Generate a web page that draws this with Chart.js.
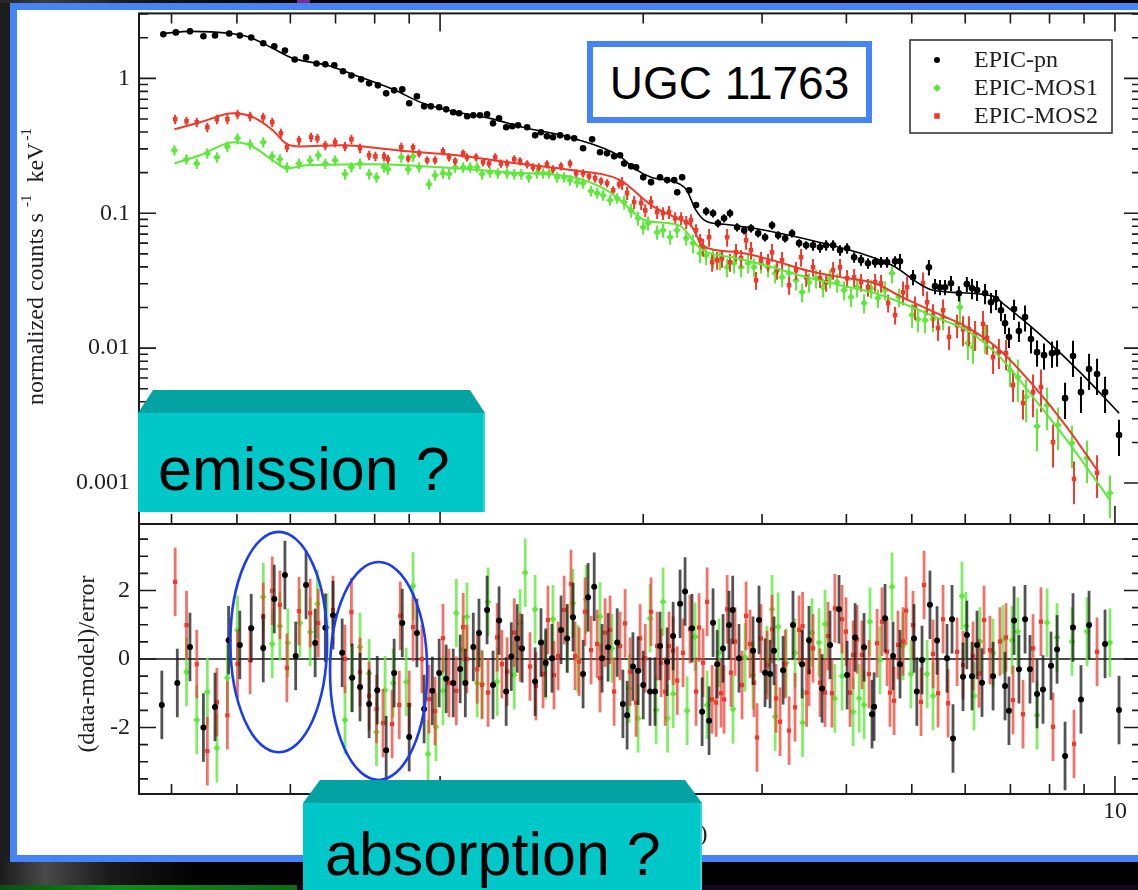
<!DOCTYPE html>
<html>
<head>
<meta charset="utf-8">
<title>UGC 11763 – XMM-Newton EPIC spectra</title>
<script src="https://cdn.jsdelivr.net/npm/chart.js@4.4.1/dist/chart.umd.min.js"></script>
<style>
  html, body { margin:0; padding:0; width:1138px; height:890px; overflow:hidden; background:#020202; }
  .abs { position:absolute; }
  #leftStrip  { left:0; top:0; width:10px; height:890px; background:#1d1d1d; }
  #topGlow    { left:0; top:0; width:1138px; height:3px; background:linear-gradient(90deg,#262626 0,#3c3c3c 45px,#151515 150px,#000 300px); }
  #purple     { left:297px; top:0; width:13px; height:3px; background:#77308a; }
  #blueFrame  { left:10px; top:3px; width:1150px; height:859px; background:#4683f4; }
  #whitePanel { left:17px; top:10px; width:1150px; height:845px; background:#ffffff; }
  #bottomBand { left:0; top:862px; width:1138px; height:23px; background:linear-gradient(90deg,#1b1b1b 0,#4a4a4a 45px,#1a1a1a 110px,#000 200px); }
  #greenBand  { left:0; top:885px; width:297px; height:5px; background:linear-gradient(90deg,#0c4f10,#138a1a 40%,#0f6a14); }
  #darkBand   { left:297px; top:885px; width:841px; height:5px; background:#12081a; }
  canvas { position:absolute; }
  #overlay { left:0; top:0; pointer-events:none; }
</style>
</head>
<body>
<div class="abs" id="leftStrip"></div>
<div class="abs" id="topGlow"></div>
<div class="abs" id="purple"></div>
<div class="abs" id="blueFrame"></div>
<div class="abs" id="whitePanel"></div>
<div class="abs" id="bottomBand"></div>
<div class="abs" id="greenBand"></div>
<div class="abs" id="darkBand"></div>

<canvas id="specCanvas" width="1160" height="570" style="left:0;top:-10px;width:1160px;height:570px"></canvas>
<canvas id="residCanvas" width="1160" height="380" style="left:0;top:500px;width:1160px;height:380px"></canvas>

<svg class="abs" id="overlay" width="1138" height="890" xmlns="http://www.w3.org/2000/svg">
  <rect x="590" y="44" width="279" height="76" fill="#ffffff" stroke="#4683f4" stroke-width="6"/>
  <text x="729.5" y="99" text-anchor="middle" font-family="'Liberation Sans', Arial, sans-serif" font-size="46" fill="#000">UGC 11763</text>

  <polygon points="153,390 470,390 485,413 138,413" fill="#04a3a3"/>
  <rect x="138" y="413" width="347" height="99" fill="#00c8c8"/>
  <rect x="483" y="413" width="2" height="99" fill="#33d6d6"/>
  <text x="158" y="490" font-family="'Liberation Sans', Arial, sans-serif" font-size="61" fill="#000">emission ?</text>

  <polygon points="320,780 685,780 702,803 303,803" fill="#04a3a3"/>
  <rect x="303" y="803" width="399" height="90" fill="#00c8c8"/>
  <rect x="700" y="803" width="2" height="90" fill="#33d6d6"/>
  <text x="325" y="875" font-family="'Liberation Sans', Arial, sans-serif" font-size="61" fill="#000">absorption ?</text>
</svg>

<script>
// ---------------------------------------------------------------
// Axis ranges and tick values
// ---------------------------------------------------------------
const xMin = 0.358, xMax = 10.93;            // keV
const fluxMin = 0.000497, fluxMax = 3.03;    // normalized counts s^-1 keV^-1
const residMin = -3.94, residMax = 3.94;     // (data-model)/error

const xLabelTicks = [1, 10];
const xMinorTicks = [0.4, 0.5, 0.6, 0.7, 0.8, 0.9, 2, 3, 4, 5, 6, 7, 8, 9];
const fluxDecades = [0.001, 0.01, 0.1, 1];
const fluxMinorTicks = [0.002,0.003,0.004,0.005,0.006,0.007,0.008,0.009,
                        0.02,0.03,0.04,0.05,0.06,0.07,0.08,0.09,
                        0.2,0.3,0.4,0.5,0.6,0.7,0.8,0.9, 2, 3];
const residMajorTicks = [-2, 0, 2];
const residMinorTicks = [-3.5,-3,-2.5,-1.5,-1,-0.5,0.5,1,1.5,2.5,3,3.5];

// ---------------------------------------------------------------
// EPIC-pn spectrum (energy keV, normalized counts, fractional error)
// ---------------------------------------------------------------
const pnE = [
  0.389,0.406,0.426,0.446,0.464,0.487,0.505,0.525,0.547,0.568,0.589,0.609,0.633,0.656,0.676,0.697,0.718,0.739,0.764,0.785,
  0.809,0.832,0.855,0.879,0.900,0.924,0.947,0.969,0.997,1.021,1.046,1.067,1.097,1.120,1.146,1.174,1.198,1.223,1.253,1.279,
  1.305,1.346,1.383,1.411,1.440,1.470,1.506,1.543,1.580,1.629,1.680,1.726,1.768,1.811,1.848,
  1.874,1.919,1.952,2.000,2.054,2.118,2.170,2.223,2.246,2.284,2.339,2.395,2.479,2.538,2.581,2.635,2.689,2.755,2.822,2.889,
  2.960,3.031,3.104,3.169,3.246,3.323,3.404,3.487,3.570,3.656,3.733,3.823,3.914,4.010,4.107,4.205,4.306,4.412,4.502,4.596,4.723,
  4.803,5.021,5.301,5.413,5.505,5.601,5.716,5.872,6.034,6.141,6.247,6.420,6.552,6.666,6.779,6.873,6.966,7.088,7.207,7.359,
  7.509,7.666,7.851,8.068,8.208,8.435,8.667,8.906,9.155,9.408,9.668,10.14];
const pnF = [
  2.12,2.19,2.23,2.05,2.08,2.15,2.08,2.01,1.82,1.73,1.61,1.38,1.43,1.29,1.27,1.25,1.13,1.05,0.983,0.918,
  0.887,0.774,0.815,0.829,0.653,0.736,0.620,0.620,0.610,0.589,0.560,0.551,0.523,0.532,0.532,0.541,0.464,0.505,0.434,0.441,
  0.449,0.434,0.378,0.398,0.372,0.366,0.378,0.366,0.359,0.303,0.353,0.283,0.278,0.264,0.269,
  0.234,0.223,0.219,0.185,0.170,0.185,0.176,0.176,0.143,0.185,0.148,0.115,0.1035,0.100,0.0843,0.0918,0.100,0.0788,0.0748,0.0774,
  0.0711,0.0664,0.0815,0.0687,0.0653,0.0711,0.0600,0.0579,0.0579,0.0560,0.0579,0.0579,0.0532,0.0550,0.0472,0.0449,0.0426,0.0434,0.0434,0.0434,0.0441,
  0.0441,0.0336,0.0398,0.0288,0.0283,0.0283,0.0303,0.0255,0.0298,0.0278,0.0269,0.0255,0.0219,0.0231,0.0191,0.0153,0.0121,0.0195,0.0134,0.0170,
  0.0117,0.00934,0.00887,0.00918,0.00934,0.00426,0.00873,0.00472,0.00699,0.00642,0.00472,0.00227];
const pnErr = [
  0.03,0.03,0.03,0.03,0.03,0.03,0.03,0.03,0.03,0.03,0.03,0.03,0.03,0.03,0.03,0.03,0.03,0.03,0.03,0.03,
  0.03,0.03,0.03,0.03,0.03,0.03,0.03,0.03,0.03,0.03,0.03,0.03,0.03,0.03,0.03,0.04,0.04,0.04,0.04,0.04,
  0.04,0.04,0.04,0.04,0.04,0.04,0.04,0.04,0.04,0.04,0.04,0.04,0.04,0.04,0.04,
  0.05,0.05,0.05,0.05,0.05,0.05,0.05,0.05,0.05,0.05,0.05,0.05,0.07,0.07,0.07,0.07,0.07,0.07,0.07,0.07,
  0.07,0.07,0.07,0.07,0.07,0.07,0.07,0.07,0.09,0.09,0.09,0.09,0.09,0.09,0.09,0.09,0.09,0.09,0.09,0.09,0.09,
  0.13,0.13,0.13,0.13,0.13,0.13,0.13,0.13,0.13,0.17,0.17,0.17,0.17,0.17,0.17,0.17,0.17,0.17,0.17,0.22,
  0.22,0.22,0.22,0.22,0.22,0.30,0.30,0.30,0.30,0.30,0.30,0.30];

// ---------------------------------------------------------------
// EPIC-MOS1 spectrum
// ---------------------------------------------------------------
const mos1E = [
  0.404,0.421,0.436,0.452,0.467,0.484,0.501,0.523,0.547,0.564,0.579,0.593,0.618,0.642,0.660,0.676,0.699,0.723,0.739,0.761,
  0.785,0.805,0.826,0.837,0.876,0.897,0.912,0.931,0.963,0.983,1.010,1.031,1.053,1.082,1.108,1.135,1.154,1.186,1.218,1.257,
  1.288,1.319,1.354,1.392,1.421,1.450,1.491,1.527,1.558,1.596,1.629,1.674,1.709,1.744,1.786,1.830,
  1.874,1.919,1.965,2.000,2.033,2.097,2.140,2.192,2.244,2.316,2.371,2.428,2.479,2.538,2.599,2.663,2.727,2.793,2.861,2.919,
  2.989,3.062,3.137,3.212,3.290,3.369,3.439,3.521,3.607,3.694,3.783,3.876,3.969,4.064,4.149,4.249,4.351,4.455,4.564,4.674,4.786,
  5.004,5.106,5.232,5.376,5.563,5.893,6.055,6.162,6.420,6.990,7.181,7.384,7.666,7.933,8.236,8.637,9.092,9.831];
const mos1F = [
  0.293,0.251,0.234,0.278,0.260,0.313,0.359,0.325,0.336,0.264,0.251,0.219,0.234,0.247,0.269,0.234,0.247,0.195,0.219,0.234,
  0.195,0.185,0.219,0.212,0.260,0.212,0.264,0.219,0.164,0.191,0.198,0.195,0.219,0.219,0.219,0.219,0.195,0.201,0.198,0.198,
  0.195,0.195,0.185,0.198,0.198,0.198,0.185,0.185,0.176,0.170,0.167,0.146,0.141,0.136,0.125,0.129,
  0.121,0.105,0.0918,0.0788,0.0843,0.0723,0.0748,0.0664,0.0748,0.0653,0.0600,0.0506,0.0489,0.0464,0.0449,0.0398,0.0426,0.0398,0.0426,0.0398,
  0.0426,0.0398,0.0359,0.0336,0.0359,0.0319,0.0260,0.0308,0.0330,0.0283,0.0330,0.0308,0.0269,0.0239,0.0283,0.0216,0.0278,0.0235,0.0269,0.0359,0.0239,
  0.0176,0.0164,0.0161,0.0164,0.0170,0.0201,0.0109,0.0102,0.0121,0.00687,0.00610,0.00434,0.00264,0.00378,0.00269,0.00198,0.00153,0.000843];
const mos1Err = [
  0.09,0.09,0.09,0.09,0.09,0.09,0.09,0.09,0.09,0.09,0.09,0.09,0.09,0.09,0.09,0.09,0.09,0.09,0.09,0.09,
  0.09,0.09,0.09,0.09,0.09,0.09,0.09,0.09,0.09,0.09,0.09,0.09,0.09,0.09,0.09,0.09,0.09,0.09,0.09,0.09,
  0.09,0.09,0.09,0.09,0.09,0.09,0.09,0.09,0.09,0.09,0.09,0.09,0.09,0.09,0.09,0.09,
  0.12,0.12,0.12,0.12,0.12,0.12,0.12,0.12,0.12,0.12,0.16,0.16,0.16,0.16,0.16,0.16,0.16,0.16,0.16,0.16,
  0.16,0.16,0.16,0.16,0.16,0.16,0.16,0.16,0.16,0.16,0.16,0.16,0.16,0.16,0.16,0.16,0.16,0.16,0.16,0.16,0.16,
  0.20,0.20,0.20,0.20,0.20,0.25,0.25,0.25,0.25,0.25,0.35,0.35,0.35,0.35,0.35,0.35,0.35,0.35];

// ---------------------------------------------------------------
// EPIC-MOS2 spectrum
// ---------------------------------------------------------------
const mos2E = [
  0.405,0.421,0.436,0.452,0.467,0.484,0.501,0.523,0.547,0.564,0.581,0.593,0.618,0.644,0.658,0.676,0.699,0.723,0.739,0.761,
  0.785,0.802,0.826,0.837,0.876,0.897,0.912,0.931,0.957,0.983,1.010,1.031,1.053,1.082,1.096,1.131,1.158,1.182,1.207,1.231,
  1.257,1.288,1.314,1.346,1.373,1.401,1.440,1.470,1.511,1.558,1.591,1.629,1.662,1.697,1.732,1.768,1.805,1.842,
  1.861,1.893,1.939,1.986,2.014,2.054,2.097,2.140,2.184,2.230,2.276,2.316,2.354,2.395,2.428,2.453,2.504,2.530,2.574,2.617,
  2.663,2.689,2.745,2.793,2.841,2.889,2.939,2.989,3.062,3.104,3.158,3.212,3.290,3.369,3.427,3.487,3.570,3.656,3.733,3.823,
  3.914,4.010,4.107,4.205,4.306,4.412,4.502,4.612,4.723,
  4.853,4.921,5.056,5.196,5.268,5.376,5.469,5.563,5.678,5.836,5.955,6.077,6.205,6.376,6.465,6.598,6.731,6.897,7.063,7.308,
  7.562,7.770,8.096,8.697,9.408];
const mos2F = [
  0.497,0.480,0.472,0.434,0.497,0.497,0.541,0.523,0.514,0.472,0.391,0.308,0.347,0.366,0.359,0.319,0.336,0.313,0.353,0.303,
  0.269,0.264,0.264,0.251,0.308,0.255,0.308,0.278,0.247,0.247,0.288,0.260,0.243,0.278,0.260,0.260,0.239,0.234,0.260,0.234,
  0.234,0.251,0.243,0.231,0.219,0.219,0.231,0.212,0.223,0.234,0.198,0.198,0.188,0.182,0.173,0.167,0.148,0.164,
  0.167,0.141,0.121,0.119,0.105,0.121,0.102,0.100,0.102,0.0918,0.0918,0.0858,0.0887,0.0748,0.0631,0.0560,0.0664,0.0434,0.0449,0.0464,
  0.0664,0.0434,0.0514,0.0464,0.0631,0.0532,0.0319,0.0449,0.0434,0.0514,0.0378,0.0449,0.0293,0.0378,0.0472,0.0336,0.0398,0.0330,0.0308,0.0378,
  0.0398,0.0330,0.0336,0.0308,0.0283,0.0308,0.0303,0.0216,0.0176,
  0.0260,0.0283,0.0201,0.0303,0.0219,0.0176,0.0141,0.0191,0.0121,0.0148,0.0138,0.0138,0.0127,0.0151,0.0119,0.00858,0.00934,0.00918,0.00532,0.00392,
  0.00472,0.00514,0.00201,0.00107,0.00119];
const mos2Err = [
  0.08,0.08,0.08,0.08,0.08,0.08,0.08,0.08,0.08,0.08,0.08,0.08,0.08,0.08,0.08,0.08,0.08,0.08,0.08,0.08,
  0.08,0.08,0.08,0.08,0.08,0.07,0.07,0.07,0.07,0.07,0.07,0.07,0.07,0.07,0.07,0.07,0.07,0.07,0.07,0.07,
  0.07,0.07,0.07,0.07,0.07,0.07,0.07,0.07,0.07,0.07,0.07,0.07,0.07,0.07,0.07,0.07,0.07,0.07,
  0.11,0.11,0.11,0.11,0.11,0.11,0.11,0.11,0.11,0.11,0.11,0.11,0.11,0.11,0.11,0.15,0.15,0.15,0.15,0.15,
  0.15,0.15,0.15,0.15,0.15,0.15,0.15,0.15,0.15,0.15,0.15,0.15,0.15,0.15,0.15,0.15,0.15,0.15,0.15,0.15,
  0.15,0.15,0.15,0.15,0.15,0.15,0.15,0.15,0.15,
  0.20,0.20,0.20,0.20,0.20,0.20,0.20,0.20,0.20,0.20,0.25,0.25,0.25,0.25,0.25,0.25,0.25,0.25,0.25,0.25,
  0.35,0.35,0.35,0.35,0.35];

// ---------------------------------------------------------------
// Folded best-fit models
// ---------------------------------------------------------------
const pnModelE = [0.389,0.426,0.489,0.523,0.565,0.605,0.680,0.743,0.852,0.944,1.060,1.186,1.327,1.574,1.848,1.939,2.054,2.230,2.316,2.395,
                  2.479,2.635,2.919,3.290,3.694,4.149,4.674,5.376,6.598,6.873,7.906,8.875,10.14];
const pnModelF = [2.15,2.23,2.15,2.01,1.67,1.41,1.25,1.07,0.829,0.653,0.560,0.505,0.434,0.359,0.264,0.215,0.185,0.170,0.150,0.105,
                  0.0872,0.0829,0.0774,0.0687,0.0600,0.0514,0.0412,0.0269,0.0243,0.0208,0.0115,0.00664,0.00330];
const mos1ModelE = [0.404,0.441,0.494,0.523,0.565,0.593,0.635,0.796,1.000,1.257,1.574,1.768,1.848,2.014,2.184,2.284,2.428,2.755,3.104,3.487,
                    3.914,4.412,4.803,5.563,6.034,6.755,7.562,8.487,9.831];
const mos1ModelF = [0.234,0.269,0.336,0.319,0.247,0.215,0.227,0.231,0.219,0.201,0.185,0.148,0.125,0.0887,0.0843,0.0788,0.0550,0.0464,0.0398,0.0336,
                    0.0293,0.0255,0.0219,0.0161,0.0136,0.00858,0.00434,0.00208,0.000748];
const mos2ModelE = [0.404,0.441,0.494,0.529,0.565,0.593,0.620,0.711,0.893,1.060,1.257,1.574,1.848,2.054,2.244,2.354,2.453,2.755,3.104,3.487,
                    3.914,4.412,4.803,5.563,6.034,6.755,7.562,8.487,9.408];
const mos2ModelF = [0.419,0.472,0.551,0.514,0.412,0.325,0.313,0.319,0.288,0.269,0.239,0.208,0.176,0.115,0.0918,0.0815,0.0570,0.0514,0.0449,0.0378,
                    0.0336,0.0303,0.0243,0.0173,0.0143,0.00966,0.00532,0.00260,0.00125];

// ---------------------------------------------------------------
// Residuals (data-model)/error ; every point carries a +/-1 sigma bar
// ---------------------------------------------------------------
const resPnE = [
  0.387,0.408,0.426,0.446,0.464,0.486,0.505,0.525,0.547,0.568,0.589,0.611,0.633,0.653,0.676,0.694,0.716,0.741,0.761,0.785,
  0.807,0.832,0.855,0.879,0.900,0.924,0.947,0.974,0.997,1.021,1.046,1.071,1.090,1.120,1.142,
  1.174,1.198,1.223,1.253,1.275,1.301,1.323,1.383,1.411,1.434,1.465,1.511,1.543,1.574,1.629,1.657,1.692,1.738,1.774,1.830,
  1.866,1.893,1.931,1.965,2.000,2.047,2.082,2.118,2.170,2.215,2.268,2.307,2.362,2.445,2.504,2.538,2.574,2.626,2.680,2.714,
  2.773,2.909,2.969,3.031,3.083,
  3.125,3.223,3.334,3.439,3.521,3.682,3.783,3.901,4.010,4.121,4.249,4.366,4.397,4.564,4.690,4.803,5.038,5.087,5.178,5.320,
  5.450,5.639,5.736,5.755,5.955,6.034,6.141,6.247,6.354,6.598,6.873,6.966,7.088,7.207,7.359,7.483,7.666,7.824,8.040,8.208,
  8.435,8.667,8.906,9.155,9.668,10.14];
const resPn = [
  -1.34,-0.70,0.35,-2.00,-1.40,0.55,0.41,0.90,0.32,1.75,2.45,0.09,2.16,0.47,0.91,1.28,0.18,-0.55,-0.82,-1.31,
  -0.91,-2.66,-0.41,1.05,-2.28,0.76,-1.46,-0.93,-0.41,-0.58,-0.70,-0.29,-0.70,0.35,0.76,
  1.43,-0.76,1.12,-0.95,0.07,0.60,0.31,-0.66,0.48,-0.11,0.02,0.85,0.60,1.22,-0.44,1.80,2.11,0.02,0.34,0.48,
  -1.31,-1.64,-0.22,-0.34,-0.76,-0.95,-0.95,0.38,-0.08,0.67,1.61,1.97,0.90,-1.54,-1.80,1.06,-0.15,0.31,0.99,1.43,
  0.02,0.24,1.14,-0.40,-0.44,
  0.24,-0.33,0.99,-0.15,0.55,-0.86,0.41,1.45,-0.47,0.63,0.34,-1.61,-1.39,1.19,0.09,-0.15,0.60,-0.95,-0.03,1.58,
  0.54,0.02,1.16,-2.32,-0.52,0.70,-0.50,0.41,-0.69,-0.50,-0.79,-1.51,1.12,-0.30,1.16,-0.30,-1.02,-0.89,-0.20,0.28,
  -2.83,0.92,-1.18,0.99,0.44,-1.49];

const resMos1E = [
  0.421,0.436,0.452,0.467,0.484,0.501,0.547,0.564,0.579,0.595,0.620,0.642,0.658,0.680,0.723,0.739,0.761,0.785,0.805,0.829,
  0.852,0.891,0.912,0.960,0.986,1.010,1.057,1.082,1.096,1.135,
  1.154,1.178,1.215,1.288,1.314,1.337,1.383,1.434,1.470,1.543,1.574,1.601,1.646,1.726,1.798,1.906,1.965,2.047,2.090,2.140,
  2.173,2.215,2.323,2.387,2.487,2.590,2.717,2.831,2.909,3.051,3.104,
  3.137,3.169,3.257,3.357,3.445,3.557,3.643,3.719,3.846,3.941,4.093,4.178,4.249,4.336,4.486,4.674,4.853,4.986,5.268,5.376,
  5.934,6.017,6.183,6.310,6.598,6.825,7.039,7.181,7.666,7.933,8.208,8.637,9.092,9.831];
const resMos1 = [
  -0.38,-1.78,-0.96,-2.60,-0.55,0.85,1.81,0.44,0.96,0.47,1.05,0.79,1.61,0.92,-1.78,-0.55,0.35,-0.42,-2.13,-0.91,
  -0.70,-0.67,2.13,-2.77,-1.98,-0.93,1.34,0.26,1.23,-0.70,
  -0.73,1.67,-0.66,-0.47,1.04,2.52,1.45,-0.18,1.16,0.60,1.63,0.00,1.74,1.24,0.31,-0.86,-1.73,1.19,-1.49,1.67,
  -1.73,-1.02,-1.51,0.65,-1.34,0.18,-1.47,0.05,-0.47,-0.03,1.45,
  -1.68,0.94,-0.11,0.18,-1.86,0.77,0.48,1.02,-1.15,-0.50,-1.54,-1.15,-1.34,1.09,-0.03,2.11,0.38,-0.44,-0.44,-1.08,
  1.84,0.96,-1.08,0.51,0.18,0.57,0.55,0.80,-1.64,1.06,0.63,0.51,0.80,0.48];

const resMos2E = [
  0.405,0.421,0.436,0.452,0.467,0.484,0.501,0.523,0.547,0.564,0.579,0.593,0.618,0.642,0.660,0.694,0.723,0.739,0.761,0.785,
  0.805,0.823,0.849,0.870,0.873,0.900,0.912,0.940,0.963,0.983,1.010,1.031,1.057,1.082,1.096,1.135,
  1.154,1.178,1.215,1.235,1.257,1.288,1.314,1.359,1.387,1.421,1.445,1.475,1.496,1.527,1.563,1.585,1.607,1.640,1.674,1.709,
  1.726,1.756,1.786,1.811,1.848,1.880,1.912,1.952,1.979,2.014,2.054,2.097,2.126,2.156,2.184,2.215,2.246,2.291,2.346,2.395,
  2.420,2.453,2.487,2.530,2.565,2.608,2.635,2.663,2.698,2.736,2.802,2.841,2.879,2.919,2.949,2.989,3.051,3.104,
  3.147,3.190,3.246,3.290,3.357,3.404,3.445,3.492,3.521,3.570,3.656,3.719,3.757,3.808,3.846,3.941,3.995,4.050,4.093,4.149,
  4.219,4.321,4.442,4.517,4.596,4.642,4.707,4.770,4.853,4.904,5.021,5.160,5.214,5.376,5.469,5.563,5.659,5.836,5.955,6.162,
  6.288,6.398,6.529,6.755,6.897,7.063,7.308,7.562,7.770,8.096,8.697,9.408];
const resMos2 = [
  2.25,0.99,-0.15,-2.69,-1.26,-1.64,-0.15,-0.03,1.23,1.99,1.58,-0.26,1.40,1.34,1.05,1.43,0.00,1.37,-0.38,-1.08,
  -1.46,-1.87,-1.90,-1.34,1.26,-1.34,0.93,0.00,-1.17,-1.52,0.61,-0.70,-0.93,0.93,0.00,-0.30,
  -0.76,-0.98,0.63,-0.15,-0.37,0.77,0.34,-0.22,-0.79,-0.44,1.14,-0.47,0.09,1.43,2.19,0.09,-0.08,1.38,0.26,0.44,
  -0.56,0.77,0.85,-0.95,0.38,1.04,-0.37,-1.27,0.60,0.02,1.38,0.38,-0.11,-0.95,0.38,0.24,-0.63,0.18,0.87,-0.95,
  0.92,-0.11,1.67,-1.18,-1.27,-1.00,-1.18,1.45,-0.40,0.51,-0.76,1.26,0.44,-0.69,-2.29,0.60,-0.18,0.87,
  -1.15,-1.83,-0.15,-2.09,-1.41,0.85,0.96,-0.98,-0.37,0.31,-0.69,-0.98,0.67,-1.00,1.48,1.16,0.80,-0.98,0.12,0.57,
  0.12,-0.44,0.46,1.09,0.21,-0.98,-1.22,0.41,0.51,1.41,0.99,-1.25,2.16,0.15,-1.00,1.16,-1.29,0.21,-0.18,0.09,
  -0.42,1.14,0.26,0.51,0.63,-1.20,-1.61,0.31,1.09,-1.98,-2.48,0.21];

// Residual features circled on the plot: energy range (keV) and residual range
const featureRings = [
  { eLo: 0.489, eHi: 0.680, rLo: -2.72, rHi: 3.71 },   // excess
  { eLo: 0.687, eHi: 0.957, rLo: -3.53, rHi: 2.83 }    // deficit
];

// ---------------------------------------------------------------
const SERIF = "'Liberation Serif','Times New Roman',serif";
const BLACK = '#000000', GREEN = '#5fe83c', RED = '#ec3b2c';

function pairUp(name, xs, ys) {
  if (xs.length !== ys.length) throw new Error(name + ' length mismatch: ' + xs.length + ' vs ' + ys.length);
  return xs.map((x, i) => ({ x: x, y: ys[i] }));
}
function checkLen(name, a, b) {
  if (a.length !== b.length) throw new Error(name + ' length mismatch: ' + a.length + ' vs ' + b.length);
}
checkLen('pnErr', pnE, pnErr); checkLen('mos1Err', mos1E, mos1Err); checkLen('mos2Err', mos2E, mos2Err);

Chart.defaults.font.family = SERIF;
Chart.defaults.color = '#1e1e1e';

// Vertical error bars, drawn just before each dataset's markers
const errorBars = {
  id: 'errorBars',
  beforeDatasetDraw(chart, args) {
    const ds = chart.data.datasets[args.index];
    if (!ds.errFrac && ds.sigma === undefined) return;
    const ctx = chart.ctx, ys = chart.scales[args.meta.yAxisID], a = chart.chartArea;
    ctx.save();
    ctx.beginPath(); ctx.rect(a.left, a.top, a.right - a.left, a.bottom - a.top); ctx.clip();
    ctx.strokeStyle = ds.errColor; ctx.lineWidth = ds.errWidth; ctx.lineCap = 'butt';
    args.meta.data.forEach((el, i) => {
      const v = ds.data[i].y;
      let lo, hi;
      if (ds.errFrac) { lo = v * (1 - ds.errFrac[i]); hi = v * (1 + ds.errFrac[i]); }
      else { lo = v - ds.sigma; hi = v + ds.sigma; }
      ctx.beginPath();
      ctx.moveTo(el.x, ys.getPixelForValue(lo));
      ctx.lineTo(el.x, ys.getPixelForValue(hi));
      ctx.stroke();
    });
    ctx.restore();
  }
};

// Box frame with inward-pointing major/minor ticks (xmgrace style)
const frameTicks = {
  id: 'frameTicks',
  beforeDatasetsDraw(chart, args, o) {
    if (!o.zeroLine) return;
    const ctx = chart.ctx, a = chart.chartArea, y0 = chart.scales.y.getPixelForValue(0);
    ctx.save(); ctx.strokeStyle = '#111'; ctx.lineWidth = 1.6;
    ctx.beginPath(); ctx.moveTo(a.left, y0); ctx.lineTo(a.right, y0); ctx.stroke();
    ctx.restore();
  },
  afterDraw(chart, args, o) {
    const ctx = chart.ctx, a = chart.chartArea, xs = chart.scales.x, ys = chart.scales.y;
    ctx.save();
    ctx.strokeStyle = '#1a1a1a'; ctx.lineWidth = 2;
    ctx.strokeRect(a.left, a.top, a.right - a.left, a.bottom - a.top);
    ctx.lineWidth = 1.6;
    const xt = (v, len) => {
      const px = xs.getPixelForValue(v);
      if (px < a.left || px > a.right) return;
      ctx.beginPath();
      if (o.xTop) { ctx.moveTo(px, a.top); ctx.lineTo(px, a.top + len); }
      if (o.xBottom) { ctx.moveTo(px, a.bottom); ctx.lineTo(px, a.bottom - len); }
      ctx.stroke();
    };
    xLabelTicks.forEach(v => xt(v, 18));
    xMinorTicks.forEach(v => xt(v, 10));
    const yt = (v, len) => {
      const py = ys.getPixelForValue(v);
      if (py < a.top - 0.5 || py > a.bottom + 0.5) return;
      ctx.beginPath();
      ctx.moveTo(a.left, py); ctx.lineTo(a.left + len, py);
      ctx.moveTo(a.right, py); ctx.lineTo(a.right - len, py);
      ctx.stroke();
    };
    o.yMajor.forEach(v => yt(v, 17));
    o.yMinor.forEach(v => yt(v, 9));
    ctx.restore();
  }
};

// Rotated / horizontal axis titles
const axisTitles = {
  id: 'axisTitles',
  afterDraw(chart, args, o) {
    const ctx = chart.ctx;
    ctx.save();
    ctx.fillStyle = '#1e1e1e';
    (o.items || []).forEach(t => {
      ctx.save();
      ctx.translate(t.x, t.y);
      if (t.rotate) ctx.rotate(-Math.PI / 2);
      ctx.textAlign = t.align || 'left';
      ctx.textBaseline = 'alphabetic';
      let x = 0;
      t.parts.forEach(p => {
        ctx.font = (p.sup ? 15 : 24) + 'px ' + SERIF;
        ctx.fillText(p.text, x, p.sup ? -12 : 0);
        x += ctx.measureText(p.text).width + (p.gap || 0);
      });
      ctx.restore();
    });
    ctx.restore();
  }
};

// Boxed legend in the upper right corner of the spectrum panel
const boxedLegend = {
  id: 'boxedLegend',
  afterDraw(chart, args, o) {
    const ctx = chart.ctx;
    ctx.save();
    ctx.fillStyle = '#ffffff';
    ctx.fillRect(o.x, o.y, o.w, o.h);
    ctx.strokeStyle = '#2a2a2a'; ctx.lineWidth = 1.5;
    ctx.strokeRect(o.x, o.y, o.w, o.h);
    const items = chart.data.datasets.filter(d => d.inLegend);
    items.forEach((d, i) => {
      const cy = o.y + o.rowTop + i * o.rowGap;
      const cx = o.x + o.markX;
      ctx.fillStyle = d.backgroundColor;
      ctx.beginPath();
      if (d.pointStyle === 'circle') ctx.arc(cx, cy, 3, 0, Math.PI * 2);
      else if (d.pointStyle === 'rect') ctx.rect(cx - 2.8, cy - 2.8, 5.6, 5.6);
      else { ctx.moveTo(cx, cy - 4); ctx.lineTo(cx + 4, cy); ctx.lineTo(cx, cy + 4); ctx.lineTo(cx - 4, cy); ctx.closePath(); }
      ctx.fill();
      ctx.fillStyle = '#1e1e1e';
      ctx.font = '24px ' + SERIF;
      ctx.textBaseline = 'middle';
      ctx.fillText(d.label, o.x + o.textX, cy + 1);
    });
    ctx.restore();
  }
};

// Rings around residual features
const featureMarks = {
  id: 'featureMarks',
  afterDraw(chart) {
    const ctx = chart.ctx, xs = chart.scales.x, ys = chart.scales.y;
    ctx.save();
    ctx.strokeStyle = '#1b3cf0'; ctx.lineWidth = 2.6;
    featureRings.forEach(r => {
      const x1 = xs.getPixelForValue(r.eLo), x2 = xs.getPixelForValue(r.eHi);
      const y1 = ys.getPixelForValue(r.rHi), y2 = ys.getPixelForValue(r.rLo);
      ctx.beginPath();
      ctx.ellipse((x1 + x2) / 2, (y1 + y2) / 2, (x2 - x1) / 2, (y2 - y1) / 2, 0, 0, Math.PI * 2);
      ctx.stroke();
    });
    ctx.restore();
  }
};

const commonOpts = {
  responsive: false, animation: false, devicePixelRatio: 1, events: [],
};

function modelSet(label, xs, ys, color, width) {
  return { label: label, data: pairUp(label, xs, ys), showLine: true, pointRadius: 0,
           borderColor: color, borderWidth: width, backgroundColor: color,
           cubicInterpolationMode: 'monotone', order: 1 };
}
function dataSet(label, xs, ys, errs, color, style, radius, order) {
  return { label: label, inLegend: true, data: pairUp(label, xs, ys), errFrac: errs,
           errColor: color, errWidth: 2, pointStyle: style, pointRadius: radius,
           backgroundColor: color, borderColor: color, borderWidth: 0, order: order };
}

// ---------------------------------------------------------------
// Upper panel: unfolded counts spectrum with models
// ---------------------------------------------------------------
new Chart(document.getElementById('specCanvas'), {
  type: 'scatter',
  data: {
    datasets: [
      dataSet('EPIC-pn',   pnE,   pnF,   pnErr,   BLACK, 'circle',  3.3, 2),
      dataSet('EPIC-MOS1', mos1E, mos1F, mos1Err, GREEN, 'rectRot', 3.8, 4),
      dataSet('EPIC-MOS2', mos2E, mos2F, mos2Err, RED,   'rect',    3.2, 3),
      modelSet('pn model',   pnModelE,   pnModelF,   BLACK, 1.6),
      modelSet('MOS1 model', mos1ModelE, mos1ModelF, GREEN, 2),
      modelSet('MOS2 model', mos2ModelE, mos2ModelF, RED,   2)
    ]
  },
  options: Object.assign({}, commonOpts, {
    layout: { padding: { left: 0, top: 23, right: 19, bottom: 36 } },
    scales: {
      x: { type: 'logarithmic', min: xMin, max: xMax, bounds: 'data', display: false },
      y: { type: 'logarithmic', min: fluxMin, max: fluxMax, bounds: 'data',
           grid: { display: false, drawTicks: false }, border: { display: false },
           ticks: { font: { size: 24 }, padding: 9, color: '#1e1e1e', callback: v => String(v) },
           afterBuildTicks: s => { s.ticks = fluxDecades.map(v => ({ value: v })); },
           afterFit: s => { s.width = 139; } }
    },
    plugins: {
      legend: { display: false }, tooltip: { enabled: false },
      frameTicks: { xTop: true, xBottom: true, yMajor: fluxDecades, yMinor: fluxMinorTicks },
      boxedLegend: { x: 910, y: 50, w: 202, h: 93, markX: 27, textX: 64, rowTop: 20, rowGap: 28 },
      axisTitles: { items: [
        { x: 43, y: 415, rotate: true, parts: [
          { text: 'normalized counts s', gap: 6 }, { text: '-1', sup: true, gap: 12 },
          { text: 'keV', gap: 2 }, { text: '-1', sup: true } ] }
      ] }
    }
  }),
  plugins: [errorBars, frameTicks, boxedLegend, axisTitles]
});

// ---------------------------------------------------------------
// Lower panel: residuals
// ---------------------------------------------------------------
function residSet(label, xs, ys, color, errColor, style, radius, order) {
  return { label: label, data: pairUp(label, xs, ys), sigma: 1, errColor: errColor, errWidth: 2.8,
           pointStyle: style, pointRadius: radius, backgroundColor: color, borderColor: color,
           borderWidth: 0, order: order };
}

new Chart(document.getElementById('residCanvas'), {
  type: 'scatter',
  data: {
    datasets: [
      residSet('EPIC-pn',   resPnE,   resPn,   BLACK, 'rgba(25,25,25,0.75)',  'circle',  3.0, 2),
      residSet('EPIC-MOS1', resMos1E, resMos1, GREEN, 'rgba(95,232,60,0.78)', 'rectRot', 3.4, 4),
      residSet('EPIC-MOS2', resMos2E, resMos2, RED,   'rgba(236,59,44,0.72)', 'rect',    3.0, 3)
    ]
  },
  options: Object.assign({}, commonOpts, {
    layout: { padding: { left: 0, top: 24, right: 19, bottom: 0 } },
    scales: {
      x: { type: 'logarithmic', min: xMin, max: xMax, bounds: 'data', position: 'bottom',
           grid: { display: false, drawTicks: false }, border: { display: false },
           ticks: { font: { size: 24 }, padding: 3, color: '#1e1e1e', maxRotation: 0, autoSkip: false, callback: v => String(v) },
           afterBuildTicks: s => { s.ticks = xLabelTicks.map(v => ({ value: v })); },
           afterFit: s => { s.height = 86; } },
      y: { type: 'linear', min: residMin, max: residMax, bounds: 'data',
           grid: { display: false, drawTicks: false }, border: { display: false },
           ticks: { font: { size: 24 }, padding: 9, color: '#1e1e1e', callback: v => String(v) },
           afterBuildTicks: s => { s.ticks = residMajorTicks.map(v => ({ value: v })); },
           afterFit: s => { s.width = 139; } }
    },
    plugins: {
      legend: { display: false }, tooltip: { enabled: false },
      frameTicks: { xTop: false, xBottom: true, yMajor: residMajorTicks, yMinor: residMinorTicks, zeroLine: true },
      axisTitles: { items: [
        { x: 94, y: 164, rotate: true, align: 'center', parts: [ { text: '(data-model)/error' } ] },
        { x: 642, y: 341, rotate: false, align: 'center', parts: [ { text: 'Energy (keV)' } ] }
      ] }
    }
  }),
  plugins: [errorBars, frameTicks, axisTitles, featureMarks]
});
</script>
</body>
</html>
